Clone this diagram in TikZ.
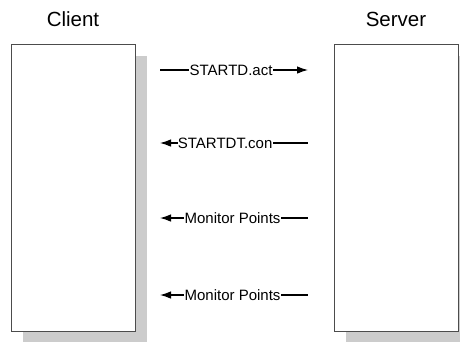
\documentclass[tikz,border=0pt]{standalone}
\usepackage{fontspec}
\setmainfont{Liberation Sans}
\usepackage{tikz}
\usetikzlibrary{positioning,arrows.meta,shadows}

\begin{document}
\begin{tikzpicture}[
    x=1pt, y=-1pt,
    party/.style={draw=black!70, line width=0.9pt, fill=white, minimum width=124pt, minimum height=287pt,
        drop shadow={shadow xshift=12pt, shadow yshift=-12pt, fill=black!20, opacity=1}},
    title/.style={inner sep=0pt, font=\fontsize{20.5}{24}\selectfont},
    msg/.style={line width=1.1pt},
    msgtext/.style={fill=white, inner sep=0.3pt, font=\fontsize{15}{18}\selectfont},
    >={Latex[length=11pt, width=7.5pt]}
]
    \clip (0,0) rectangle (460,341);

    \node[party] (client) at (73,187.5) {};
    \node[party] (server) at (396,187.5) {};
    \node[title, above=17pt of client] (clientname) {Client};
    \node[title, above=17pt of server] (servername) {Server};

    % messages between the two sides
    \foreach \n/\y/\dir/\p/\txt in {1/70/->/0.48/STARTD.act, 2/143/<-/0.44/STARTDT.con,
        3/218/<-/0.49/Monitor Points, 4/295/<-/0.49/Monitor Points}{
        \coordinate (from\n) at (160,\y);
        \coordinate (to\n) at (308,\y);
        \draw[msg, \dir] (from\n) -- node[msgtext, pos=\p] {\txt} (to\n);
    }
\end{tikzpicture}
\end{document}
